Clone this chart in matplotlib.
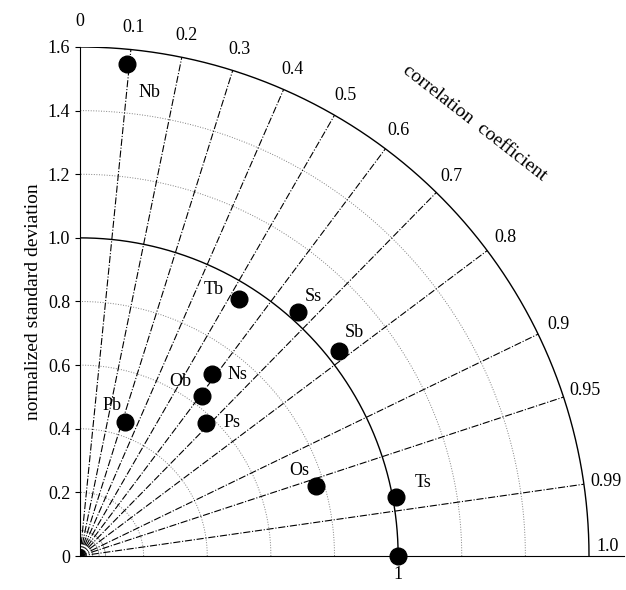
import numpy as np
import matplotlib.pyplot as plt

plt.rcParams['font.family'] = ['Liberation Serif', 'DejaVu Serif']

names = ['Nb', 'Tb', 'Ss', 'Sb', 'Ns', 'Ob', 'Ps', 'Pb', 'Os', 'Ts', '']
std = [1.554, 0.949, 1.027, 1.037, 0.707, 0.633, 0.577, 0.445, 0.775, 1.011, 1.0]
corr = [0.096, 0.527, 0.666, 0.784, 0.588, 0.607, 0.688, 0.317, 0.959, 0.983, 1.0]
corr_ticks = [0.1, 0.2, 0.3, 0.4, 0.5, 0.6, 0.7, 0.8, 0.9, 0.95, 0.99]
std_ticks = [0, 0.2, 0.4, 0.6, 0.8, 1.0, 1.2, 1.4, 1.6]
rmax = 1.6

# label offsets (data units)
offs = {'Nb': (0.07, -0.09), 'Tb': (-0.08, 0.03), 'Ss': (0.05, 0.05), 'Sb': (0.05, 0.06),
        'Ns': (0.08, 0.0), 'Ob': (-0.07, 0.045), 'Ps': (0.08, 0.0), 'Pb': (-0.04, 0.05),
        'Os': (-0.055, 0.05), 'Ts': (0.085, 0.045)}

fig = plt.figure(figsize=(6.26, 5.9), dpi=100)
ax = fig.add_axes([80 / 626, 32 / 590, 544 / 626, 513 / 590])
ax.set_aspect('equal')
ax.set_xlim(0, 1.71)
ax.set_ylim(0, 1.6)

t = np.linspace(0, np.pi / 2, 300)
for r in std_ticks[1:]:
    if r in (1.0, 1.6):
        ax.plot(r * np.cos(t), r * np.sin(t), color='black', lw=1)
    else:
        ax.plot(r * np.cos(t), r * np.sin(t), color='gray', lw=0.7, ls=':')
for r in [0.02, 0.04, 0.06, 0.08]:
    ax.plot(r * np.cos(t), r * np.sin(t), color='gray', lw=0.5)

for c in corr_ticks:
    a = np.arccos(c)
    ax.plot([0, rmax * np.cos(a)], [0, rmax * np.sin(a)], color='black', lw=0.8, ls='-.')
    ax.text(1.67 * np.cos(a), 1.67 * np.sin(a), str(c), ha='center', va='center', fontsize=13)
ax.text(0, 1.68, '0', ha='center', va='center', fontsize=13)
ax.text(1.66, 0.03, '1.0', ha='center', va='center', fontsize=13)
ax.text(1.24, 1.36, 'correlation  coefficient', rotation=-38, ha='center', va='center', fontsize=14)

for n, s, c in zip(names, std, corr):
    x, y = s * c, s * np.sqrt(1 - c * c)
    ax.plot(x, y, 'o', color='black', ms=12, clip_on=False, zorder=5)
    if n:
        dx, dy = offs[n]
        ax.text(x + dx, y + dy, n, ha='center', va='center', fontsize=13)

ax.spines['top'].set_visible(False)
ax.spines['right'].set_visible(False)
ax.set_yticks(std_ticks)
ax.set_yticklabels(['0', '0.2', '0.4', '0.6', '0.8', '1.0', '1.2', '1.4', '1.6'], fontsize=13)
ax.set_xticks([1.0])
ax.set_xticklabels(['1'], fontsize=13)
ax.set_ylabel('normalized standard deviation', fontsize=14)
fig.savefig('out.png')
